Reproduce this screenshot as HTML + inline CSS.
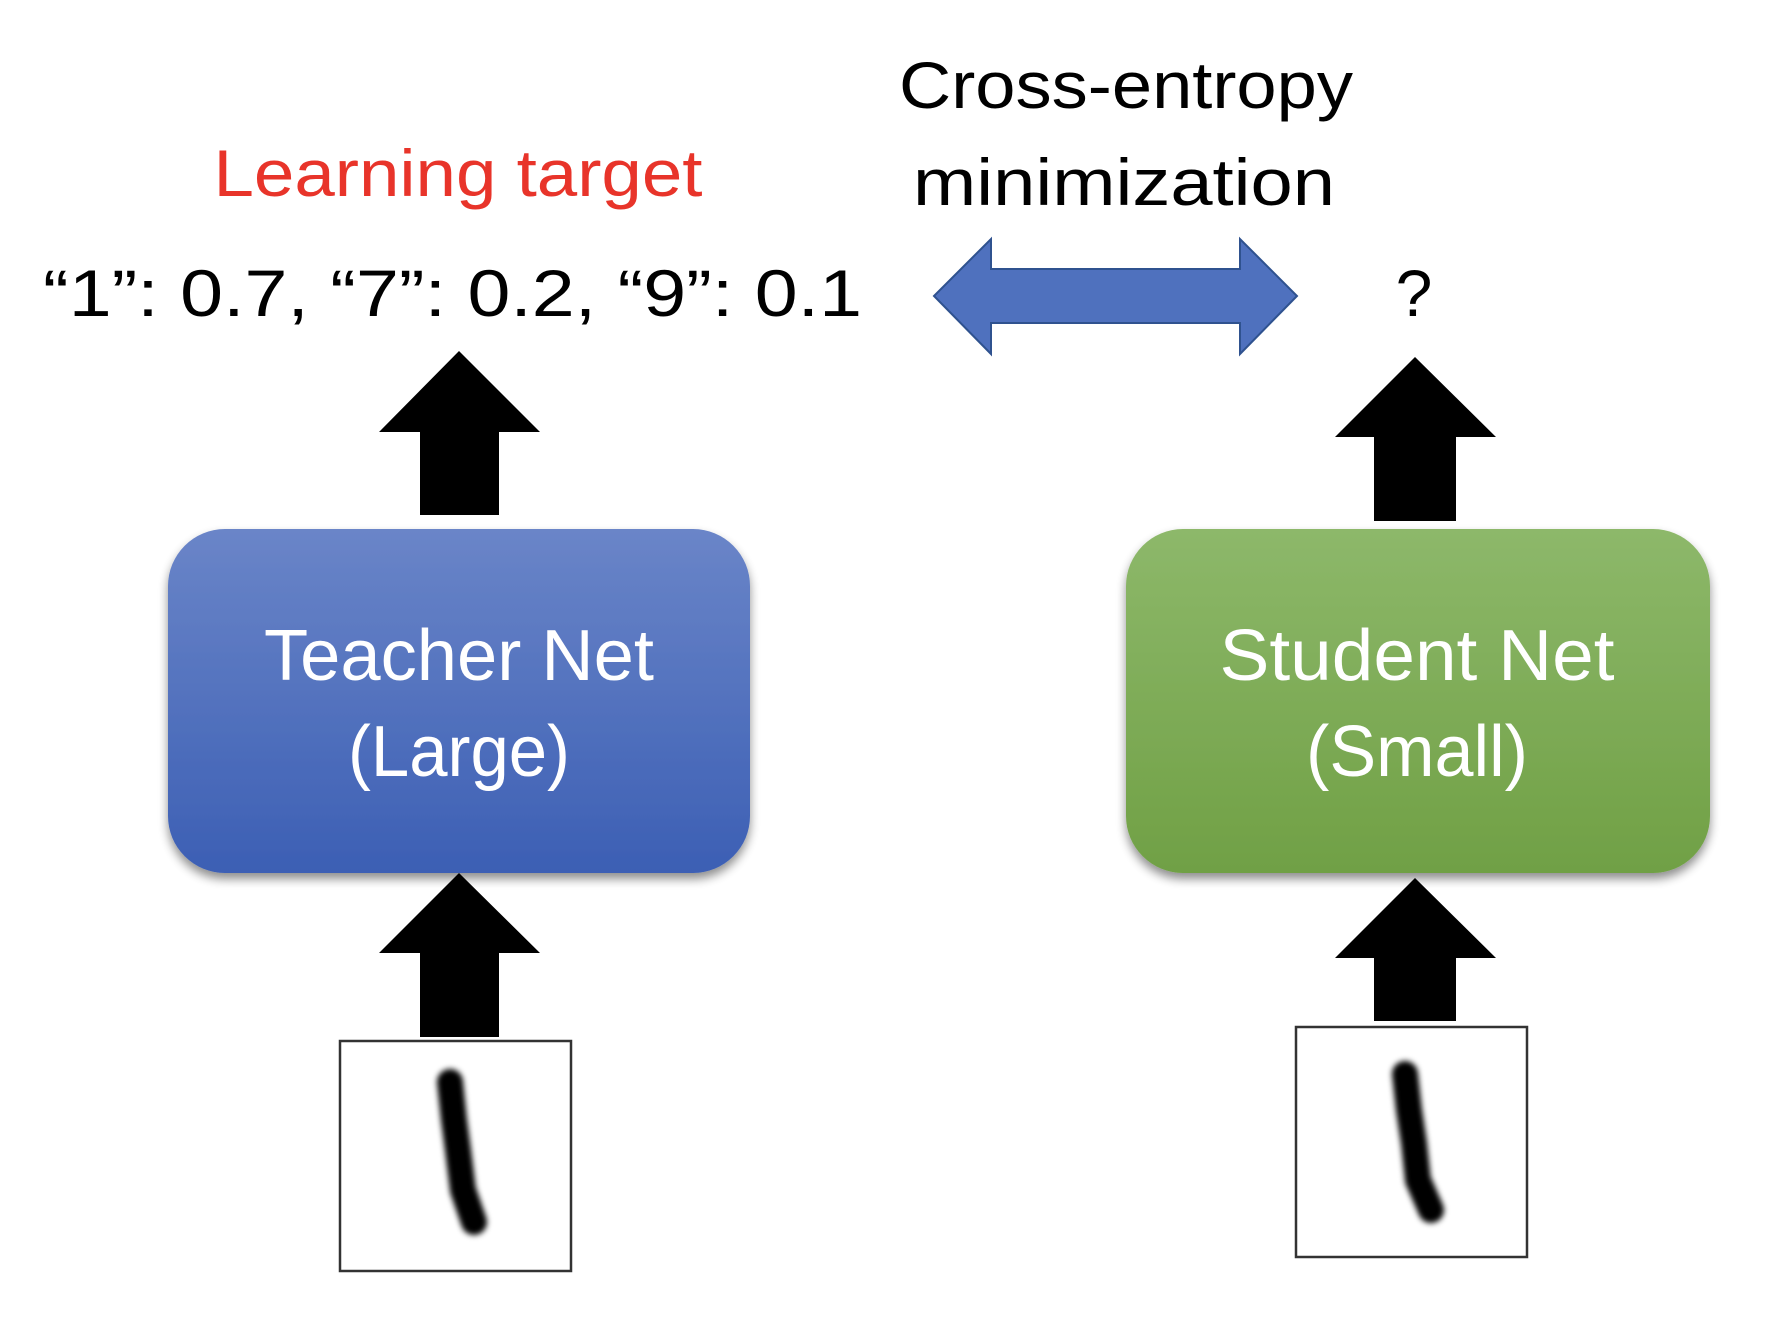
<!DOCTYPE html>
<html><head><meta charset="utf-8"><style>
html,body{margin:0;padding:0;background:#fff;}
svg{display:block;}
text{font-family:"Liberation Sans",sans-serif;}
</style></head><body>
<svg width="1774" height="1324" viewBox="0 0 1774 1324" xmlns="http://www.w3.org/2000/svg">
<defs>
<linearGradient id="gb" x1="0" y1="0" x2="0" y2="1"><stop offset="0" stop-color="#6a85c8"/><stop offset="1" stop-color="#3c5fb4"/></linearGradient>
<linearGradient id="gg" x1="0" y1="0" x2="0" y2="1"><stop offset="0" stop-color="#8db86a"/><stop offset="1" stop-color="#70a045"/></linearGradient>
<filter id="sh" x="-10%" y="-10%" width="120%" height="130%"><feGaussianBlur in="SourceAlpha" stdDeviation="5"/><feOffset dx="0" dy="6"/><feComponentTransfer><feFuncA type="linear" slope="0.45"/></feComponentTransfer><feMerge><feMergeNode/><feMergeNode in="SourceGraphic"/></feMerge></filter>
<filter id="bl" filterUnits="userSpaceOnUse" x="0" y="0" width="1774" height="1324"><feGaussianBlur stdDeviation="3"/></filter>
</defs>

<text x="458" y="196" text-anchor="middle" font-size="66" fill="#e8342a" textLength="489" lengthAdjust="spacingAndGlyphs">Learning target</text>
<text x="43" y="316" font-size="66" fill="#000" textLength="819" lengthAdjust="spacingAndGlyphs">“1”: 0.7, “7”: 0.2, “9”: 0.1</text>
<text x="1126" y="108" text-anchor="middle" font-size="66" fill="#000" textLength="454" lengthAdjust="spacingAndGlyphs">Cross-entropy</text>
<text x="1124" y="205" text-anchor="middle" font-size="66" fill="#000" textLength="422" lengthAdjust="spacingAndGlyphs">minimization</text>
<text x="1414" y="316" text-anchor="middle" font-size="66" fill="#000">?</text>

<polygon points="939,296 996,239 996,269 1245,269 1245,239 1302,296 1245,354 1245,323 996,323 996,354" fill="#4f71be" stroke="#2f528f" stroke-width="2" transform="translate(-5,0)"/>

<polygon points="459,351 540,432 499,432 499,515 420,515 420,432 379,432" fill="#000"/>
<polygon points="459,873 540,953 499,953 499,1037 420,1037 420,953 379,953" fill="#000"/>
<g transform="translate(-6,0)">
<polygon points="1421,357 1502,437 1462,437 1462,521 1380,521 1380,437 1341,437" fill="#000"/>
<polygon points="1421,878 1502,958 1462,958 1462,1021 1380,1021 1380,958 1341,958" fill="#000"/>
</g>

<rect x="168" y="529" width="582" height="344" rx="57" fill="url(#gb)" filter="url(#sh)"/>
<text x="459" y="680" text-anchor="middle" font-size="72" fill="#fff" textLength="390" lengthAdjust="spacingAndGlyphs">Teacher Net</text>
<text x="459" y="776" text-anchor="middle" font-size="72" fill="#fff" textLength="222" lengthAdjust="spacingAndGlyphs">(Large)</text>

<rect x="1131" y="529" width="584" height="344" rx="57" fill="url(#gg)" filter="url(#sh)" transform="translate(-5,0)"/>
<text x="1417" y="680" text-anchor="middle" font-size="72" fill="#fff" textLength="395" lengthAdjust="spacingAndGlyphs">Student Net</text>
<text x="1417" y="776" text-anchor="middle" font-size="72" fill="#fff" textLength="222" lengthAdjust="spacingAndGlyphs">(Small)</text>

<rect x="340" y="1041" width="231" height="230" fill="#fff" stroke="#333" stroke-width="2.5"/>
<path d="M450,1082 L454,1120 L458,1150 L463,1190 L474,1222" fill="none" stroke="#000" stroke-width="26" stroke-linecap="round" filter="url(#bl)"/>
<rect x="1296" y="1027" width="231" height="230" fill="#fff" stroke="#333" stroke-width="2.5"/>
<path d="M1405,1074 L1409,1110 L1414,1143 L1418,1180 L1431,1210" fill="none" stroke="#000" stroke-width="26" stroke-linecap="round" filter="url(#bl)"/>
</svg>
</body></html>
